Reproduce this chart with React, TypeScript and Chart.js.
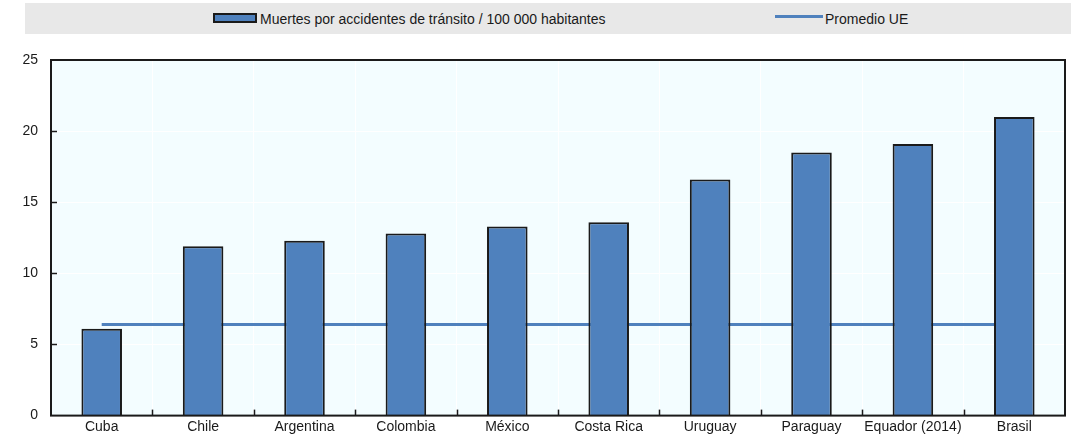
import React, { useEffect, useRef } from 'react';
import { Chart, registerables } from 'chart.js';

Chart.register(...registerables);

const categories = ['Cuba', 'Chile', 'Argentina', 'Colombia', 'México', 'Costa Rica', 'Uruguay', 'Paraguay', 'Equador (2014)', 'Brasil'];
const deathsPer100k = [6.1, 11.9, 12.3, 12.8, 13.3, 13.6, 16.6, 18.5, 19.1, 21.0];
const euAverage = [6.4, 6.4, 6.4, 6.4, 6.4, 6.4, 6.4, 6.4, 6.4, 6.4];
const yTickValues = [0, 5, 10, 15, 20, 25];
const barLabel = 'Muertes por accidentes de tránsito / 100 000 habitantes';
const lineLabel = 'Promedio UE';

const BLUE = '#4f81bd';
const FONT = "'Liberation Sans', Arial, sans-serif";

const framePlugin = {
  id: 'framePlugin',
  beforeDraw(chart: any) {
    const { ctx, chartArea } = chart;
    ctx.save();
    ctx.fillStyle = '#f3fdff';
    ctx.fillRect(chartArea.left, chartArea.top, chartArea.right - chartArea.left, chartArea.bottom - chartArea.top);
    ctx.restore();
  },
  afterDraw(chart: any) {
    const { ctx, chartArea } = chart;
    const xs = chart.scales.x;
    const ys = chart.scales.y;
    ctx.save();
    ctx.strokeStyle = '#1a1a1a';
    ctx.lineWidth = 1.5;
    yTickValues.forEach((v) => {
      if (v === yTickValues[0] || v === yTickValues[yTickValues.length - 1]) return;
      const y = Math.round(ys.getPixelForValue(v)) + 0.5;
      ctx.beginPath();
      ctx.moveTo(chartArea.left, y);
      ctx.lineTo(chartArea.left + 6, y);
      ctx.stroke();
    });
    for (let i = 1; i < categories.length; i++) {
      const x = Math.round((xs.getPixelForValue(i - 1) + xs.getPixelForValue(i)) / 2) + 0.5;
      ctx.beginPath();
      ctx.moveTo(x, chartArea.bottom);
      ctx.lineTo(x, chartArea.bottom - 6);
      ctx.stroke();
    }
    ctx.lineWidth = 2;
    ctx.strokeRect(chartArea.left, chartArea.top, chartArea.right - chartArea.left, chartArea.bottom - chartArea.top);
    ctx.restore();
  },
};

export default function App() {
  const canvasRef = useRef<HTMLCanvasElement | null>(null);

  useEffect(() => {
    document.body.style.margin = '0';
    const canvas = canvasRef.current;
    if (!canvas) return;
    const chart = new Chart(canvas, {
      type: 'bar',
      data: {
        labels: categories,
        datasets: [
          {
            type: 'bar',
            label: barLabel,
            data: deathsPer100k,
            backgroundColor: BLUE,
            borderColor: '#1a1a1a',
            borderWidth: 2,
            barPercentage: 0.4,
            categoryPercentage: 1,
            order: 1,
          } as any,
          {
            type: 'line',
            label: lineLabel,
            data: euAverage,
            borderColor: BLUE,
            borderWidth: 3,
            pointRadius: 0,
            fill: false,
            order: 2,
          } as any,
        ],
      },
      options: {
        animation: false,
        responsive: false,
        devicePixelRatio: 1,
        layout: { padding: { top: 60, right: 6, left: 0, bottom: 0 } },
        plugins: {
          legend: { display: false },
          tooltip: { enabled: false },
        },
        scales: {
          x: {
            grid: { color: '#ffffff', lineWidth: 1, drawTicks: false, offset: true },
            border: { display: false },
            ticks: { color: '#1a1a1a', font: { family: FONT, size: 14 }, padding: 3, maxRotation: 0, autoSkip: false },
            afterFit(scale: any) { scale.height = 21; },
          },
          y: {
            min: 0,
            max: 25,
            afterBuildTicks(scale: any) { scale.ticks = yTickValues.map((v) => ({ value: v })); },
            grid: { color: '#ffffff', lineWidth: 1, drawTicks: false },
            border: { display: false },
            ticks: { color: '#1a1a1a', font: { family: FONT, size: 14 }, padding: 13 },
            afterFit(scale: any) { scale.width = 51; },
          },
        },
      },
      plugins: [framePlugin],
    });
    return () => chart.destroy();
  }, []);

  const textStyle: React.CSSProperties = {
    position: 'absolute',
    top: 8,
    fontFamily: FONT,
    fontSize: 14,
    color: '#1a1a1a',
    lineHeight: '16px',
    whiteSpace: 'nowrap',
  };

  return (
    <div style={{ position: 'absolute', left: 0, top: 0, width: 1071, height: 437, background: '#ffffff' }}>
      <div style={{ position: 'absolute', left: 25, top: 3, width: 1046, height: 31, background: '#e8e8e8' }}>
        <div style={{ position: 'absolute', left: 188, top: 10, width: 40, height: 6, background: BLUE, border: '2px solid #1a1a1a' }} />
        <div style={{ ...textStyle, left: 235 }}>{barLabel}</div>
        <div style={{ position: 'absolute', left: 750, top: 12, width: 48, height: 3, background: BLUE }} />
        <div style={{ ...textStyle, left: 800 }}>{lineLabel}</div>
      </div>
      <canvas ref={canvasRef} width={1071} height={437} style={{ position: 'absolute', left: 0, top: 0 }} />
    </div>
  );
}
